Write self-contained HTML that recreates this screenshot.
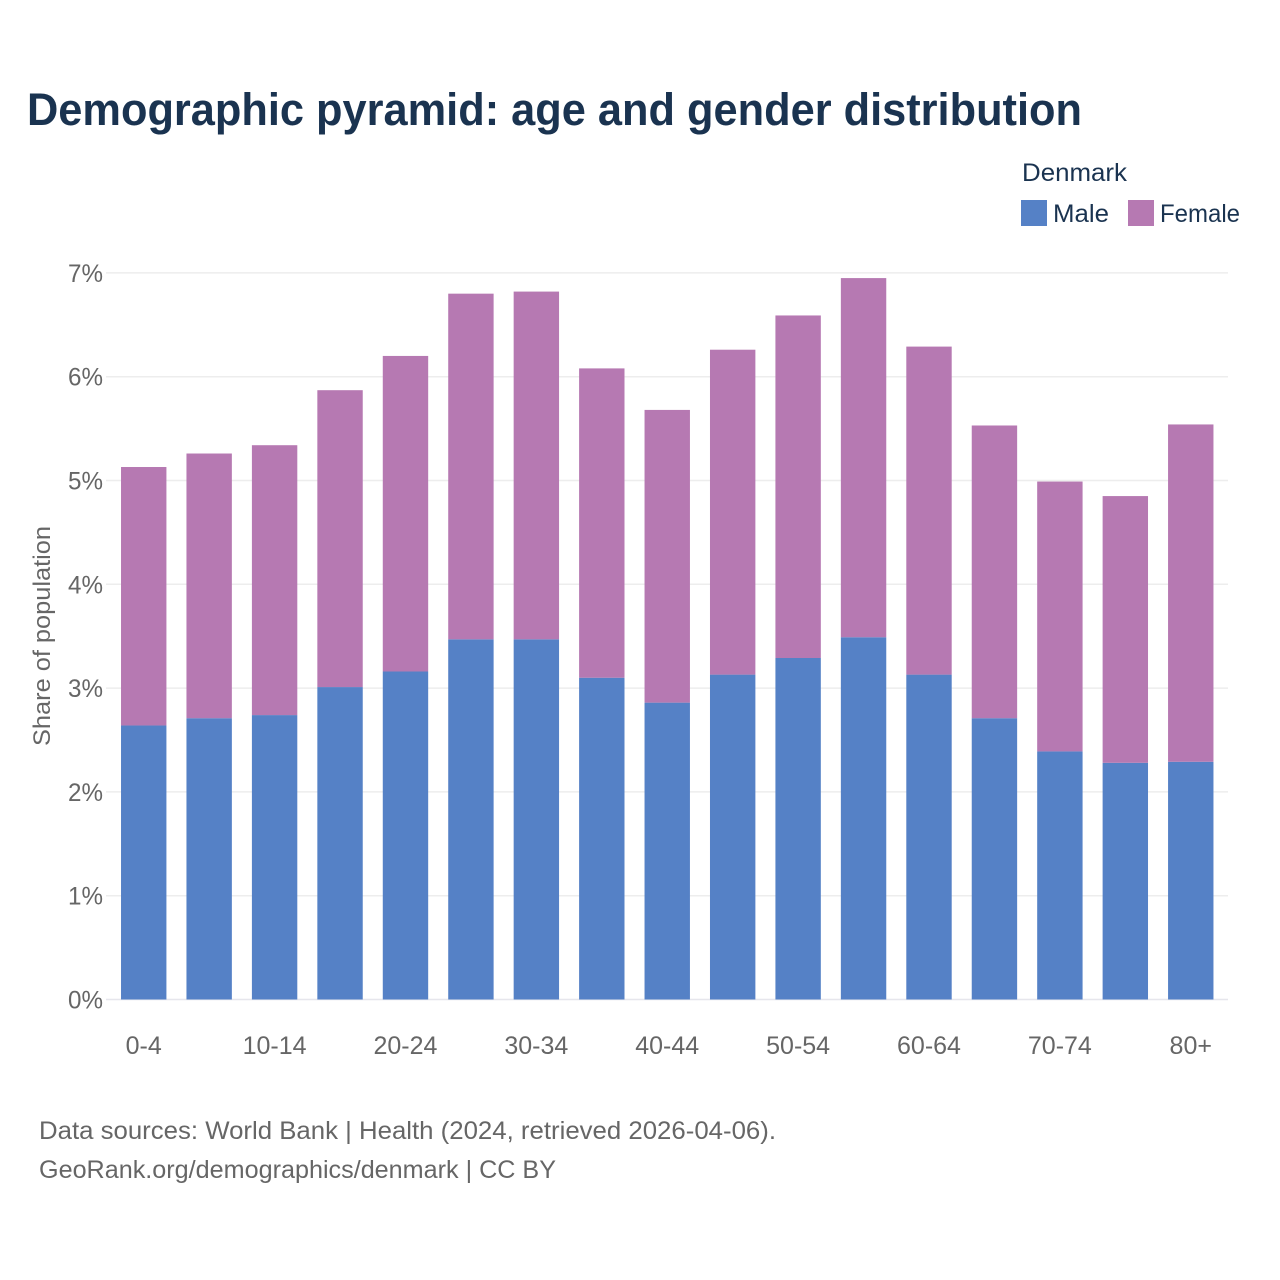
<!DOCTYPE html>
<html lang="en">
<head>
<meta charset="utf-8">
<title>Demographic pyramid: age and gender distribution</title>
<style>
html,body{margin:0;padding:0;background:#fff;width:1280px;height:1280px;overflow:hidden}
svg{display:block}
text{font-family:"Liberation Sans",sans-serif}
</style>
</head>
<body>
<svg id="chart" width="1280" height="1280" viewBox="0 0 1280 1280" xmlns="http://www.w3.org/2000/svg">
  <rect width="1280" height="1280" fill="#fff"></rect>
  <text x="27" y="125" font-size="45" font-weight="700" fill="#1a3350" textLength="1055" lengthAdjust="spacingAndGlyphs">Demographic pyramid: age and gender distribution</text>
  <text x="1022" y="181" font-size="25" fill="#1a3350" textLength="105" lengthAdjust="spacingAndGlyphs">Denmark</text>
  <rect x="1021" y="200" width="26" height="26" fill="#5581c6"></rect>
  <text x="1053" y="222" font-size="25" fill="#1a3350" textLength="56" lengthAdjust="spacingAndGlyphs">Male</text>
  <rect x="1128" y="200" width="26" height="26" fill="#b679b2"></rect>
  <text x="1160" y="222" font-size="25" fill="#1a3350" textLength="80" lengthAdjust="spacingAndGlyphs">Female</text>
  <g id="grid"></g>
  <g id="bars"></g>
  <g id="x-labels"></g>
  <g id="y-labels"></g>
  <text transform="translate(50,636) rotate(-90)" text-anchor="middle" font-size="24" fill="#666" textLength="220" lengthAdjust="spacingAndGlyphs">Share of population</text>
  <text x="39" y="1139" font-size="25" fill="#666" textLength="737" lengthAdjust="spacingAndGlyphs">Data sources: World Bank | Health (2024, retrieved 2026-04-06).</text>
  <text x="39" y="1178" font-size="25" fill="#666" textLength="517" lengthAdjust="spacingAndGlyphs">GeoRank.org/demographics/denmark | CC BY</text>
</svg>
<script>
const categories = ['0-4','5-9','10-14','15-19','20-24','25-29','30-34','35-39','40-44','45-49','50-54','55-59','60-64','65-69','70-74','75-79','80+'];
const maleValues = [2.64,2.71,2.74,3.01,3.16,3.47,3.47,3.10,2.86,3.13,3.29,3.49,3.13,2.71,2.39,2.28,2.29];
const femaleValues = [2.49,2.55,2.60,2.86,3.04,3.33,3.35,2.98,2.82,3.13,3.30,3.46,3.16,2.82,2.60,2.57,3.25];
const yTicks = [0,1,2,3,4,5,6,7];

const NS = 'http://www.w3.org/2000/svg';
const y = v => 999.5 - v * 103.8;
const bandStep = 65.44;
const bandLeft = 111;
const x = i => bandLeft + i * bandStep;
const barWidth = 45.4;
const barInset = (bandStep - barWidth) / 2;

function make(tag, attrs, parent) {
  const el = document.createElementNS(NS, tag);
  for (const k in attrs) el.setAttribute(k, attrs[k]);
  parent.appendChild(el);
  return el;
}

const gridG = document.getElementById('grid');
const yLabelG = document.getElementById('y-labels');
yTicks.forEach(t => {
  const line = make('line', {x1: 106, x2: 1228, y1: y(t), y2: y(t), stroke: t === 0 ? '#e6e6ec' : '#ededed', 'stroke-width': 1.5}, gridG);
  
  
  const label = make('text', {x: 103, y: y(t) + 9, 'text-anchor': 'end', 'font-size': 25, fill: '#666'}, yLabelG);
  
  
  label.setAttribute('textLength', 35);
  label.setAttribute('lengthAdjust', 'spacingAndGlyphs');
  label.textContent = t + '%';
});

const barG = document.getElementById('bars');
const xLabelG = document.getElementById('x-labels');
categories.forEach((c, i) => {
  const left = x(i) + barInset;
  const m = make('rect', {x: left, y: y(maleValues[i]), width: barWidth, height: y(0) - y(maleValues[i]), fill: '#5581c6'}, barG);
  
  
  const total = maleValues[i] + femaleValues[i];
  const f = make('rect', {x: left, y: y(total), width: barWidth, height: y(maleValues[i]) - y(total), fill: '#b679b2'}, barG);
  
  
  if (i % 2 === 0) {
    const label = make('text', {x: x(i) + bandStep / 2, y: 1054, 'text-anchor': 'middle', 'font-size': 25, fill: '#666'}, xLabelG);
    
    
    label.textContent = c;
  }
});
</script>
</body>
</html>
